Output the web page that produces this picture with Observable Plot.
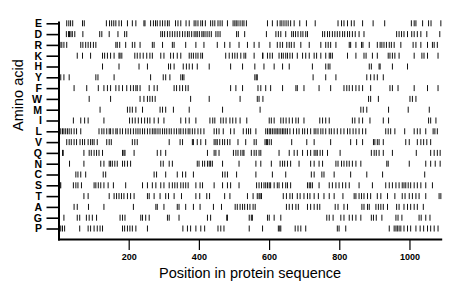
<!DOCTYPE html>
<html>
<head>
<meta charset="utf-8">
<script src="https://cdn.jsdelivr.net/npm/d3@7"></script>
<script src="https://cdn.jsdelivr.net/npm/@observablehq/plot@0.6"></script>
<style>
  html, body { margin: 0; padding: 0; background: #fff; }
  #chart svg { display: block; }
</style>
</head>
<body>
<div id="chart"></div>
<script>
const aminoAcids = ["E","D","R","K","H","Y","F","W","M","I","L","V","Q","N","C","S","T","A","G","P"];
const xTicks = [200, 400, 600, 800, 1000];
const seqLength = 1089;

const posE = [22,28,33,39,67,72,135,144,150,156,162,171,178,195,209,219,242,245,261,269,275,280,288,295,302,309,314,332,339,347,362,371,385,390,396,404,409,417,432,438,444,453,459,465,480,496,501,505,510,516,522,527,534,594,608,622,630,635,641,647,653,660,670,686,705,730,795,805,812,822,833,841,865,895,928,1004,1012,1017,1036,1053,1060,1088];
const posD = [21,27,30,34,38,45,68,116,122,143,168,187,193,290,295,301,309,316,323,330,337,344,352,359,366,371,378,385,390,394,400,407,411,416,422,428,434,447,453,459,506,511,529,591,618,625,632,646,663,668,674,681,689,695,703,708,751,757,765,771,779,786,793,800,808,814,822,828,836,844,855,869,962,969,976,983,993,1005,1012,1021,1031,1048,1085];
const posR = [3,8,14,22,62,68,76,83,90,98,105,162,166,173,190,209,216,231,266,271,295,323,328,361,390,413,451,472,487,513,537,556,570,601,622,630,637,649,656,662,670,689,713,746,760,767,774,789,827,831,846,862,866,884,907,915,920,926,933,941,947,955,974,1009,1017,1031,1050,1064,1069,1078];
const posK = [52,67,90,124,130,138,147,157,171,174,179,216,223,231,240,250,259,266,290,299,318,326,337,347,371,377,383,390,396,404,409,475,485,494,501,508,518,527,532,556,580,581,594,601,608,627,634,639,646,651,658,665,679,694,703,713,727,734,746,760,770,774,779,822,846,869,875,893,907,938,943,950,957,969,1012,1034,1040,1050,1080];
const posH = [124,171,228,252,312,318,328,354,363,371,380,394,428,489,523,558,584,613,637,656,722,760,767,772,884,890,912,915,950,993];
const posY = [5,14,29,105,111,157,261,297,304,316,347,352,356,558,562,565,724,760,789,877,888,898,907,924];
const posF = [43,79,112,128,138,147,162,171,181,193,204,212,219,223,231,257,271,280,328,335,344,352,361,368,489,504,523,567,575,589,603,637,675,679,698,741,774,812,820,827,836,846,855,865,888,943,950,966,1012,1050,1080];
const posW = [86,147,231,242,252,259,266,274,375,428,516,565,570,581,882,888,910,1000,1007,1017];
const posM = [117,195,202,209,219,238,288,295,304,326,371,466,573,860,867,877,939,995,1055];
const posI = [41,62,73,83,128,201,209,217,226,235,244,252,259,271,283,299,347,361,371,390,430,438,444,461,468,476,487,495,504,516,535,599,605,613,632,639,647,656,665,675,682,698,743,751,760,770,836,843,855,865,886,924,939,1053,1059,1074];
const posL = [5,10,14,19,24,29,35,43,50,62,114,122,128,136,143,147,154,162,166,174,181,190,197,204,212,219,225,231,238,244,252,259,266,271,276,282,288,295,301,307,314,320,328,335,342,347,354,361,368,373,380,387,396,404,413,442,449,456,468,489,499,525,534,540,546,561,589,594,599,603,608,613,618,622,627,632,637,641,646,651,658,668,677,684,694,700,708,717,727,732,738,746,752,760,770,776,784,793,803,812,822,829,838,846,855,865,874,931,938,945,957,985,1012,1021,1029,1045,1066,1071,1078];
const posV = [22,29,35,43,50,60,67,73,83,90,95,100,109,136,143,149,209,216,223,314,345,352,380,383,394,404,418,442,447,451,458,466,472,480,487,510,532,556,562,587,591,594,599,605,663,706,727,774,831,848,865,896,900,907,912,924,988,998,1021,1031,1039,1048,1059];
const posQ = [10,12,71,86,92,100,107,114,124,181,185,188,214,280,290,304,423,442,447,456,497,504,510,518,524,527,548,556,562,570,575,627,656,670,679,694,708,717,727,732,736,744,751,765,801,890,898,904,912,924,950,1018,1059,1069,1078,1086];
const posN = [30,71,119,128,143,147,152,159,166,181,187,195,204,290,297,314,323,394,399,409,415,423,428,432,437,466,513,561,575,605,630,637,643,651,660,684,717,727,741,751,789,795,805,812,820,827,836,846,860,934,938,998,1045,1059,1072,1086];
const posC = [48,54,62,76,126,133,271,278,304,337,352,361,383,466,473,480,506,561,608,646,719,727,749,755,784,831,877,922,1042];
const posS = [3,5,41,48,54,64,100,105,112,119,128,140,155,190,238,252,266,276,290,299,314,323,330,337,347,354,361,368,390,402,409,442,466,480,489,513,563,570,577,584,589,594,599,603,613,622,627,637,646,651,660,708,713,717,722,741,770,779,789,798,808,817,827,855,893,931,941,950,960,969,978,983,988,995,1002,1012,1021,1031,1045,1064];
const posT = [71,83,143,157,164,171,178,185,195,204,214,252,257,271,288,304,312,328,349,390,401,421,429,472,487,537,553,565,570,573,577,639,648,658,665,679,687,698,708,715,727,739,755,770,784,809,841,846,855,862,869,879,888,907,917,936,957,978,986,998,1007,1017,1026,1045,1083,1088];
const posA = [43,52,84,128,212,276,280,299,337,342,361,383,402,440,463,502,508,516,523,529,537,544,553,559,648,656,665,675,682,708,717,727,736,743,787,795,812,822,863,869,879,884,903,910,917,924,936,962,969,983,993,1002,1012,1021,1038];
const posG = [14,52,59,78,86,95,107,174,181,188,233,238,247,257,309,314,342,423,432,478,480,542,548,551,594,599,613,632,763,770,781,803,812,827,836,846,860,890,896,904,920,960,966,977,1026,1032,1045,1057];
const posP = [5,10,16,59,83,90,100,109,117,124,181,187,195,202,209,219,252,353,366,375,390,404,415,453,461,470,542,580,625,629,632,673,681,689,703,793,798,817,941,955,960,964,969,974,983,993,1002,1017,1029,1039,1050,1059,1069,1080];

const positionsByAcid = {E: posE, D: posD, R: posR, K: posK, H: posH, Y: posY, F: posF, W: posW, M: posM, I: posI,
  L: posL, V: posV, Q: posQ, N: posN, C: posC, S: posS, T: posT, A: posA, G: posG, P: posP};

const residues = aminoAcids.flatMap(aa => positionsByAcid[aa].map(pos => ({aa, pos})));

const font = "'Liberation Sans', Arial, Helvetica, sans-serif";

const chart = Plot.plot({
  width: 460,
  height: 299,
  marginLeft: 58.5,
  marginRight: 19.3,
  marginTop: 22,
  marginBottom: 60,
  style: {fontFamily: font, background: "#fff", color: "#000", overflow: "visible"},
  x: {domain: [0, seqLength]},
  y: {type: "band", domain: aminoAcids, range: [17.9, 233.9], padding: 0, round: false},
  marks: [
    Plot.tickX(residues, {x: "pos", y: "aa", stroke: "#111", strokeWidth: 1, insetTop: 2.4, insetBottom: 2.4}),
    Plot.frame({anchor: "left", stroke: "#000", strokeWidth: 2}),
    Plot.frame({anchor: "bottom", stroke: "#000", strokeWidth: 2}),
    Plot.axisY({tickSize: 12, tickPadding: 5, fontSize: 10.5, fontWeight: "bold", strokeWidth: 1.6, label: null}),
    Plot.axisX({ticks: xTicks, tickFormat: d => String(d), tickSize: 11, tickPadding: 3, fontSize: 9, fontWeight: "bold", strokeWidth: 1.2, label: null}),
    Plot.text(["Position in protein sequence"], {frameAnchor: "bottom", dy: 38, fontSize: 14.5, fill: "#000"}),
    Plot.text(["Amino acid"], {frameAnchor: "left", dx: -41, rotate: -90, fontSize: 14.5, fill: "#000"})
  ]
});

document.getElementById("chart").appendChild(chart);
</script>
</body>
</html>
